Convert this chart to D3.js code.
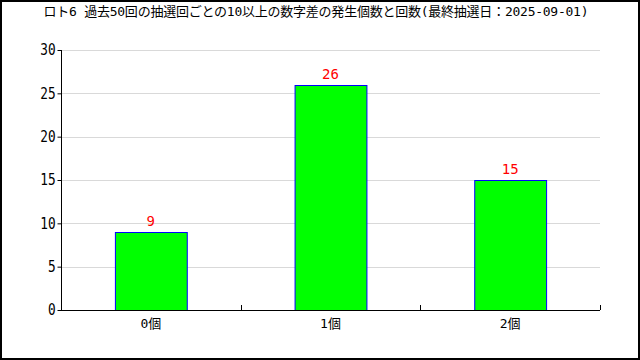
<!DOCTYPE html>
<html>
<head>
<meta charset="utf-8">
<script src="https://cdn.jsdelivr.net/npm/d3@7/dist/d3.min.js"></script>
<style>
  body { margin: 0; background: #fff; }
  svg text { font-family: "DejaVu Sans Mono", "Noto Sans CJK JP", monospace; }
</style>
</head>
<body>
<div id="chart"></div>
<script>
// chart data
var title = "ロト6 過去50回の抽選回ごとの10以上の数字差の発生個数と回数(最終抽選日：2025-09-01)";
var categories = ["0個", "1個", "2個"];
var counts = [9, 26, 15];
var yTicks = [0, 5, 10, 15, 20, 25, 30];

var svgWidth = 640;
var svgHeight = 360;
var margin = { top: 50, right: 40, bottom: 50, left: 61 };
var plotWidth = 600 - margin.left;
var plotHeight = 310 - margin.top;

var svg = d3.select("#chart")
  .append("svg")
  .attr("width", svgWidth)
  .attr("height", svgHeight);

// outer frame
svg.append("rect")
  .attr("x", 1)
  .attr("y", 1)
  .attr("width", svgWidth - 2)
  .attr("height", svgHeight - 2)
  .attr("fill", "#fff")
  .attr("stroke", "#000")
  .attr("stroke-width", 2);

svg.append("text")
  .attr("x", 316)
  .attr("y", 16)
  .attr("text-anchor", "middle")
  .attr("font-size", 13)
  .attr("textLength", 545)
  .attr("fill", "#000")
  .text(title);

var chartGroup = svg.append("g")
  .attr("transform", `translate(${margin.left}, ${margin.top})`);

var xBand = d3.scaleBand()
  .domain(categories)
  .range([0, plotWidth]);

var yScale = d3.scaleLinear()
  .domain([0, 30])
  .range([plotHeight, 0]);

// grid lines
chartGroup.selectAll("line.grid")
  .data(yTicks.filter(d => d > 0))
  .enter()
  .append("line")
  .attr("class", "grid")
  .attr("x1", 0)
  .attr("x2", plotWidth)
  .attr("y1", d => Math.round(yScale(d)) + 0.5)
  .attr("y2", d => Math.round(yScale(d)) + 0.5)
  .attr("stroke", "#d9d9d9")
  .attr("stroke-width", 1);

// bars
chartGroup.selectAll("rect.bar")
  .data(counts)
  .enter()
  .append("rect")
  .attr("class", "bar")
  .attr("x", (d, i) => xBand(categories[i]) + xBand.bandwidth() * 0.3 + 0.5)
  .attr("y", d => Math.round(yScale(d)) + 0.5)
  .attr("width", xBand.bandwidth() * 0.4)
  .attr("height", d => plotHeight - Math.round(yScale(d)))
  .attr("fill", "#00ff00")
  .attr("stroke", "#0000ff")
  .attr("stroke-width", 1);

// value labels
chartGroup.selectAll("text.value")
  .data(counts)
  .enter()
  .append("text")
  .attr("class", "value")
  .attr("x", (d, i) => xBand(categories[i]) + xBand.bandwidth() / 2)
  .attr("y", d => yScale(d) - 6)
  .attr("text-anchor", "middle")
  .attr("font-size", 14)
  .attr("fill", "#ff0000")
  .text(d => d);

// y axis
var leftAxis = d3.axisLeft(yScale)
  .tickValues(yTicks)
  .tickSize(4)
  .tickPadding(3);
var yAxis = chartGroup.append("g")
  .attr("transform", "translate(0.5, 0)")
  .call(leftAxis);
yAxis.select(".domain").attr("d", `M0,${plotHeight}V0`);
yAxis.selectAll("text").attr("font-size", 15).attr("fill", "#000")
  .style("font-family", "'DejaVu Sans Mono', monospace")
  .attr("transform", "scale(0.85, 1)");

// x axis
var bottomAxis = d3.axisBottom(xBand)
  .tickSize(0)
  .tickPadding(8);
var xAxis = chartGroup.append("g")
  .attr("transform", `translate(0, ${plotHeight + 0.5})`)
  .call(bottomAxis);
xAxis.select(".domain").attr("d", `M0,0H${plotWidth}`);
xAxis.selectAll("text").attr("font-size", 13).attr("fill", "#000");

// category boundary ticks
chartGroup.selectAll("line.sep")
  .data(categories)
  .enter()
  .append("line")
  .attr("class", "sep")
  .attr("x1", d => Math.round(xBand(d) + xBand.bandwidth()) + 0.5)
  .attr("x2", d => Math.round(xBand(d) + xBand.bandwidth()) + 0.5)
  .attr("y1", plotHeight)
  .attr("y2", plotHeight - 5)
  .attr("stroke", "#000");
</script>
</body>
</html>
